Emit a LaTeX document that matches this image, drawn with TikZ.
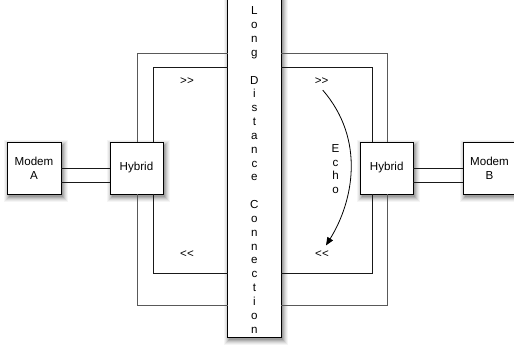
\documentclass[tikz,border=0pt]{standalone}
\usepackage{fontspec}
\setmainfont{Liberation Sans}
\usetikzlibrary{arrows.meta}
\tikzset{
  box/.style={draw=black, line width=0.8pt, fill=white, inner sep=0pt, outer sep=0pt,
    align=center, font=\fontsize{11.6}{13.6}\selectfont},
  wire/.style={line width=0.8pt, draw=black!90},
  owire/.style={line width=0.8pt, draw=black!65},
  lbl/.style={inner sep=0pt, font=\fontsize{11.6}{13.6}\selectfont},
  vtxt/.style={inner sep=0pt, align=center, font=\fontsize{11.6}{13.83}\selectfont}
}
\newcommand\myboxshadow[4]{%
  \fill[black!4]  ({#1+1.5-5},{#2+3-5}) rectangle ({#3+1.5+5},{#4+3+5});
  \fill[black!9]  ({#1+1.5-4},{#2+3-4}) rectangle ({#3+1.5+4},{#4+3+4});
  \fill[black!15] ({#1+1.5-3},{#2+3-3}) rectangle ({#3+1.5+3},{#4+3+3});
  \fill[black!22] ({#1+1.5-2},{#2+3-2}) rectangle ({#3+1.5+2},{#4+3+2});
  \fill[black!30] ({#1+1.5-1},{#2+3-1}) rectangle ({#3+1.5+1},{#4+3+1});
  \fill[black!38] ({#1+1.5},{#2+3}) rectangle ({#3+1.5},{#4+3});
}
\begin{document}
\begin{tikzpicture}[x=1pt,y=-1pt]
\useasboundingbox (0,0) rectangle (514,347);
% shadows
\myboxshadow{7}{142}{61}{194}
\myboxshadow{110}{142}{163}{194}
\myboxshadow{360.25}{142}{413.25}{194}
\myboxshadow{463}{142}{516}{194}
\myboxshadow{227.5}{-10}{281.3}{337.3}
% boxes
\node[box, minimum width=54pt, minimum height=52pt] (ma) at (34,168) {Modem\\A};
\node[box, minimum width=53pt, minimum height=52pt] (hl) at (136.5,168) {Hybrid};
\node[box, minimum width=53pt, minimum height=52pt] (hr) at (386.75,168) {Hybrid};
\node[box, minimum width=53pt, minimum height=52pt] (mb) at (489.5,168) {Modem\\B};
\node[box, minimum width=53.8pt, minimum height=347.3pt] (ld) at (254.4,163.65) {};
\node[vtxt] (ldt) at (254.4,170) {L\\o\\n\\g\\[13.83pt]D\\i\\s\\t\\a\\n\\c\\e\\[13.83pt]C\\o\\n\\n\\e\\c\\t\\i\\o\\n};
% labels
\node[lbl] (f1) at (187,81.5) {>{}>};
\node[lbl] (f2) at (321.7,81.5) {>{}>};
\node[lbl] (b1) at (187,254) {<{}<};
\node[lbl] (b2) at (322,254) {<{}<};
\node[vtxt] (echo) at (335.5,169) {E\\c\\h\\o};
% loop corners
\coordinate (otl) at (137.5,53.5);
\coordinate (otr) at (387.5,53.5);
\coordinate (obl) at (137.5,305.5);
\coordinate (obr) at (387.5,305.5);
\coordinate (itl) at (153.3,67);
\coordinate (itr) at (372.3,67);
\coordinate (ibl) at (153.3,273.8);
\coordinate (ibr) at (372.3,273.8);
% wires
\draw[owire] (hl.north -| otl) -- (otl) -- (ld.west |- otl);
\draw[owire] (ld.east |- otr) -- (otr) -- (hr.north -| otr);
\draw[owire] (hl.south -| obl) -- (obl) -- (ld.west |- obl);
\draw[owire] (ld.east |- obr) -- (obr) -- (hr.south -| obr);
\draw[wire] (hl.north -| itl) -- (itl) -- (ld.west |- itl);
\draw[wire] (ld.east |- itr) -- (itr) -- (hr.north -| itr);
\draw[wire] (hl.south -| ibl) -- (ibl) -- (ld.west |- ibl);
\draw[wire] (ld.east |- ibr) -- (ibr) -- (hr.south -| ibr);
\draw[wire] ([yshift=-0.3pt]ma.east) -- ([yshift=-0.3pt]hl.west);
\draw[wire] ([yshift=-14.7pt]ma.east) -- ([yshift=-14.7pt]hl.west);
\draw[wire] ([yshift=-0.3pt]hr.east) -- ([yshift=-0.3pt]mb.west);
\draw[wire] ([yshift=-14.7pt]hr.east) -- ([yshift=-14.7pt]mb.west);
% echo arrow
\draw[line width=0.8pt, -{Triangle[length=8pt,width=6.5pt]}] ([xshift=1pt,yshift=-5pt]f2.south) .. controls (366,140) and (353,202) .. ([xshift=4pt,yshift=5pt]b2.north);
\end{tikzpicture}
\end{document}
